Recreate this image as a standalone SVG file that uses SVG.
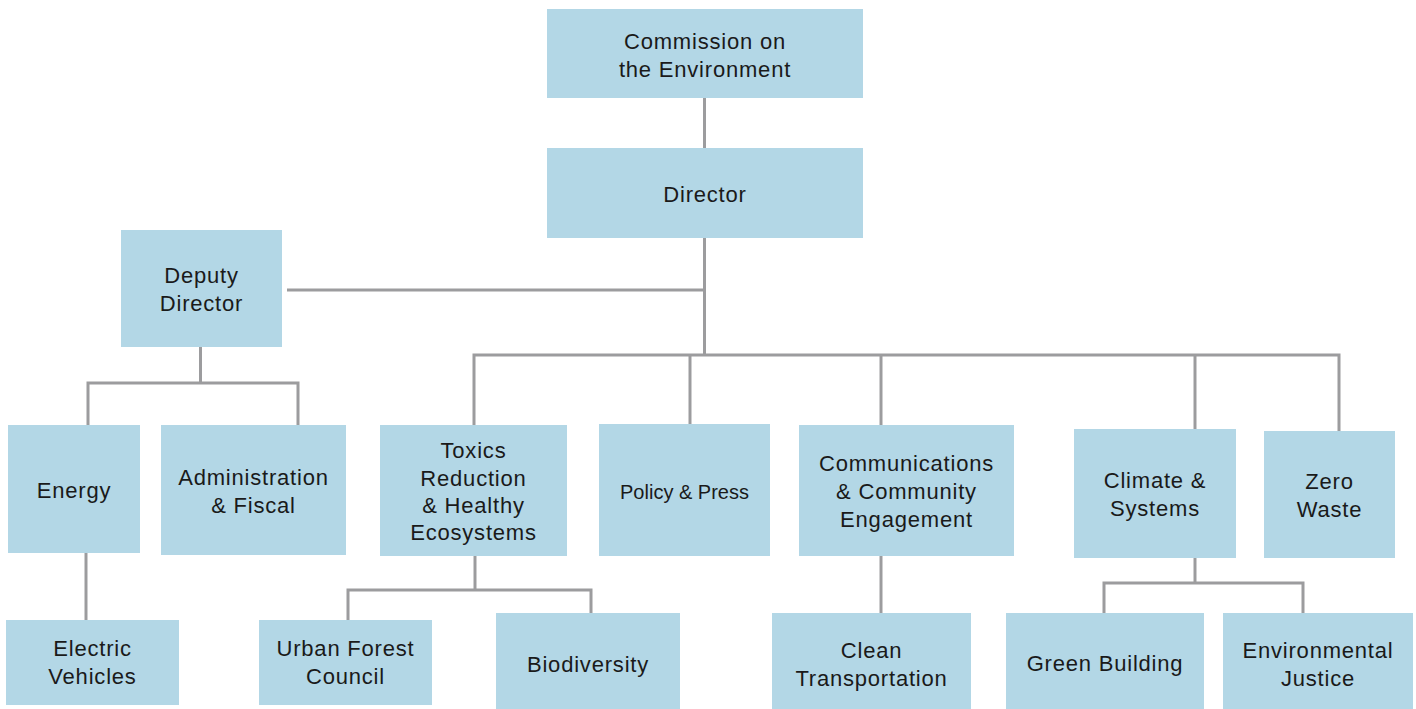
<svg xmlns="http://www.w3.org/2000/svg" width="1416" height="709" viewBox="0 0 1416 709">
<style>
.box{fill:#b3d7e6}
.lbl{font-family:"Liberation Sans",Arial,sans-serif;font-size:22px;fill:#1a1a1a;text-anchor:middle;letter-spacing:0.8px}
.con{fill:none;stroke:#9c9c9e;stroke-width:3}
</style>
<rect width="1416" height="709" fill="#ffffff"/>
<g id="connectors" class="con">
<path d="M704.5 98V148"/>
<path d="M704.5 238V355"/>
<path d="M287 290H704.5"/>
<path d="M474 425V355H1339V431"/>
<path d="M690 355V424"/>
<path d="M881 355V425"/>
<path d="M1195 355V429"/>
<path d="M200.5 347V383"/>
<path d="M88 425V383H298V425"/>
<path d="M86 553V620"/>
<path d="M475 556V590"/>
<path d="M348 620V590H591V613"/>
<path d="M881 556V613"/>
<path d="M1195 558V583"/>
<path d="M1104 613V583H1303V613"/>
</g>
<g id="commission"><rect class="box" x="547" y="9" width="316" height="89"/><text class="lbl" x="705" y="49">Commission on</text><text class="lbl" x="705" y="77">the Environment</text></g>
<g id="director"><rect class="box" x="547" y="148" width="316" height="90"/><text class="lbl" x="705" y="202">Director</text></g>
<g id="deputy"><rect class="box" x="121" y="230" width="161" height="117"/><text class="lbl" x="201.5" y="283">Deputy</text><text class="lbl" x="201.5" y="311">Director</text></g>
<g id="energy"><rect class="box" x="8" y="425" width="132" height="128"/><text class="lbl" x="74" y="498">Energy</text></g>
<g id="admin"><rect class="box" x="161" y="425" width="185" height="130"/><text class="lbl" x="253.5" y="485">Administration</text><text class="lbl" x="253.5" y="513">&amp; Fiscal</text></g>
<g id="toxics"><rect class="box" x="380" y="425" width="187" height="131"/><text class="lbl" x="473.5" y="458">Toxics</text><text class="lbl" x="473.5" y="486">Reduction</text><text class="lbl" x="473.5" y="513">&amp; Healthy</text><text class="lbl" x="473.5" y="540">Ecosystems</text></g>
<g id="policy"><rect class="box" x="599" y="424" width="171" height="132"/><text class="lbl" x="684.5" y="499" style="font-size:20px;letter-spacing:0">Policy &amp; Press</text></g>
<g id="communications"><rect class="box" x="799" y="425" width="215" height="131"/><text class="lbl" x="906.5" y="471">Communications</text><text class="lbl" x="906.5" y="499">&amp; Community</text><text class="lbl" x="906.5" y="527">Engagement</text></g>
<g id="climate"><rect class="box" x="1074" y="429" width="162" height="129"/><text class="lbl" x="1155" y="488">Climate &amp;</text><text class="lbl" x="1155" y="516">Systems</text></g>
<g id="zerowaste"><rect class="box" x="1264" y="431" width="131" height="127"/><text class="lbl" x="1329.5" y="489">Zero</text><text class="lbl" x="1329.5" y="517">Waste</text></g>
<g id="electric"><rect class="box" x="6" y="620" width="173" height="85"/><text class="lbl" x="92.5" y="656">Electric</text><text class="lbl" x="92.5" y="684">Vehicles</text></g>
<g id="urbanforest"><rect class="box" x="259" y="620" width="173" height="85"/><text class="lbl" x="345.5" y="656">Urban Forest</text><text class="lbl" x="345.5" y="684">Council</text></g>
<g id="biodiversity"><rect class="box" x="496" y="613" width="184" height="96"/><text class="lbl" x="588" y="672">Biodiversity</text></g>
<g id="cleantransport"><rect class="box" x="772" y="613" width="199" height="96"/><text class="lbl" x="871.5" y="658">Clean</text><text class="lbl" x="871.5" y="686">Transportation</text></g>
<g id="greenbuilding"><rect class="box" x="1006" y="613" width="198" height="96"/><text class="lbl" x="1105" y="671">Green Building</text></g>
<g id="envjustice"><rect class="box" x="1223" y="613" width="190" height="96"/><text class="lbl" x="1318" y="658">Environmental</text><text class="lbl" x="1318" y="686">Justice</text></g>
</svg>
